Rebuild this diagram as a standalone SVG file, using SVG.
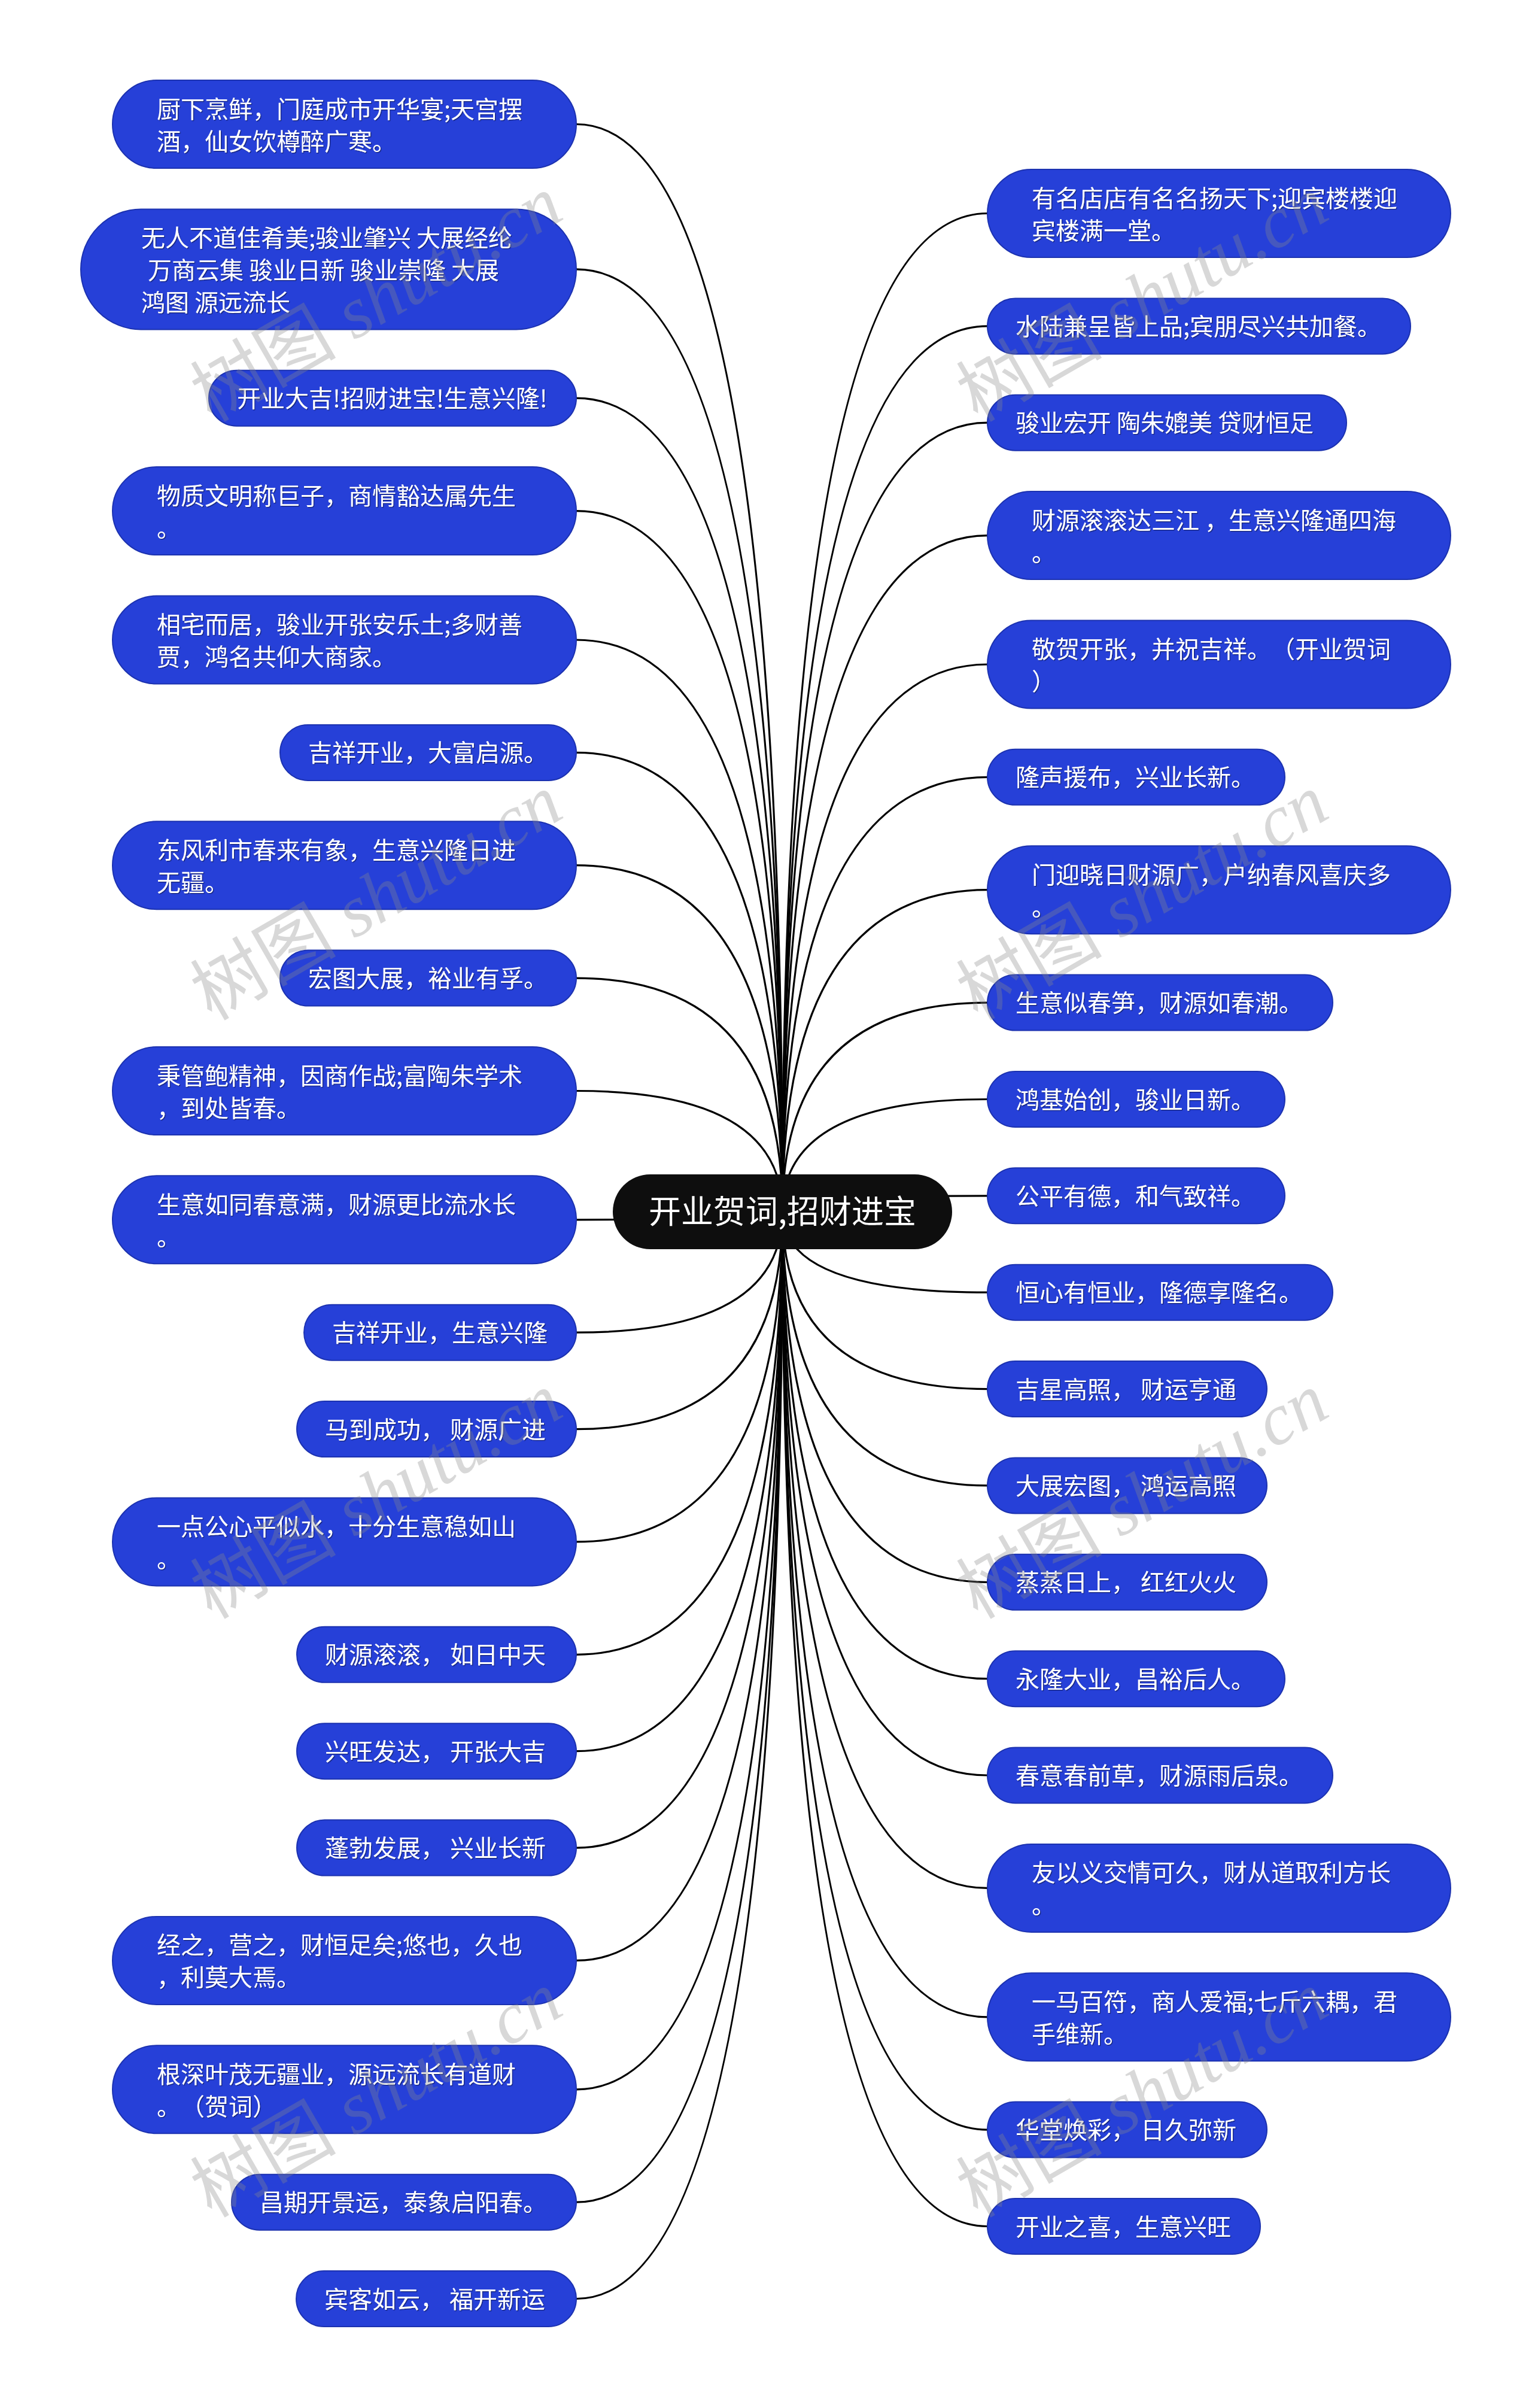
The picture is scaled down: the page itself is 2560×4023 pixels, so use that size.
<svg xmlns="http://www.w3.org/2000/svg" width="2560" height="4023" viewBox="0 0 2560 4023">
<defs>
<style>
.c path{fill:none;stroke:#000;stroke-width:3.2}
.n{fill:#2640d8;stroke:#1c32b0;stroke-width:2}
.t{font-family:"Noto Sans CJK SC","Liberation Sans",sans-serif;font-size:40px;fill:#fff;filter:url(#ts);text-spacing-trim:space-all}
.root{fill:#0e0e0e}
.rt{font-family:"Noto Sans CJK SC","Liberation Sans",sans-serif;font-size:54px;fill:#fff;text-anchor:middle}
.wm{font-family:"Liberation Serif","Noto Sans CJK SC",serif;font-size:122px;fill:#888;fill-opacity:0.33;text-anchor:middle}
</style>
<filter id="ts" x="-5%" y="-20%" width="110%" height="140%">
<feDropShadow dx="1.3" dy="1.3" stdDeviation="0.7" flood-color="#000" flood-opacity="0.45"/>
</filter>
</defs>
<rect width="2560" height="4023" fill="#fff"/>
<g id="connectors" class="c">
<path d="M1307.5,2024.5 Q1307.5,207.5 963,207.5"/>
<path d="M1307.5,2024.5 Q1307.5,449.9 963,449.9"/>
<path d="M1307.5,2024.5 Q1307.5,665.2 963,665.2"/>
<path d="M1307.5,2024.5 Q1307.5,853.6 963,853.6"/>
<path d="M1307.5,2024.5 Q1307.5,1069 963,1069"/>
<path d="M1307.5,2024.5 Q1307.5,1257.4 963,1257.4"/>
<path d="M1307.5,2024.5 Q1307.5,1445.7 963,1445.7"/>
<path d="M1307.5,2024.5 Q1307.5,1634.1 963,1634.1"/>
<path d="M1307.5,2024.5 Q1307.5,1822.5 963,1822.5"/>
<path d="M1307.5,2024.5 Q1307.5,2037.8 963,2037.8"/>
<path d="M1307.5,2024.5 Q1307.5,2226.2 963,2226.2"/>
<path d="M1307.5,2024.5 Q1307.5,2387.6 963,2387.6"/>
<path d="M1307.5,2024.5 Q1307.5,2575.9 963,2575.9"/>
<path d="M1307.5,2024.5 Q1307.5,2764.3 963,2764.3"/>
<path d="M1307.5,2024.5 Q1307.5,2925.7 963,2925.7"/>
<path d="M1307.5,2024.5 Q1307.5,3087.1 963,3087.1"/>
<path d="M1307.5,2024.5 Q1307.5,3275.4 963,3275.4"/>
<path d="M1307.5,2024.5 Q1307.5,3490.8 963,3490.8"/>
<path d="M1307.5,2024.5 Q1307.5,3679.2 963,3679.2"/>
<path d="M1307.5,2024.5 Q1307.5,3840.5 963,3840.5"/>
<path d="M1307.5,2024.5 Q1307.5,356.5 1650,356.5"/>
<path d="M1307.5,2024.5 Q1307.5,544.9 1650,544.9"/>
<path d="M1307.5,2024.5 Q1307.5,706.2 1650,706.2"/>
<path d="M1307.5,2024.5 Q1307.5,894.6 1650,894.6"/>
<path d="M1307.5,2024.5 Q1307.5,1110 1650,1110"/>
<path d="M1307.5,2024.5 Q1307.5,1298.3 1650,1298.3"/>
<path d="M1307.5,2024.5 Q1307.5,1486.7 1650,1486.7"/>
<path d="M1307.5,2024.5 Q1307.5,1675.1 1650,1675.1"/>
<path d="M1307.5,2024.5 Q1307.5,1836.5 1650,1836.5"/>
<path d="M1307.5,2024.5 Q1307.5,1997.8 1650,1997.8"/>
<path d="M1307.5,2024.5 Q1307.5,2159.2 1650,2159.2"/>
<path d="M1307.5,2024.5 Q1307.5,2320.6 1650,2320.6"/>
<path d="M1307.5,2024.5 Q1307.5,2481.9 1650,2481.9"/>
<path d="M1307.5,2024.5 Q1307.5,2643.3 1650,2643.3"/>
<path d="M1307.5,2024.5 Q1307.5,2804.7 1650,2804.7"/>
<path d="M1307.5,2024.5 Q1307.5,2966 1650,2966"/>
<path d="M1307.5,2024.5 Q1307.5,3154.4 1650,3154.4"/>
<path d="M1307.5,2024.5 Q1307.5,3369.8 1650,3369.8"/>
<path d="M1307.5,2024.5 Q1307.5,3558.1 1650,3558.1"/>
<path d="M1307.5,2024.5 Q1307.5,3719.5 1650,3719.5"/>
</g>
<g id="root"><rect class="root" x="1024" y="1962" width="567" height="125" rx="62.5"/><text class="rt" x="1307.5" y="2044">开业贺词,招财进宝</text></g>
<g id="L1"><rect class="n" x="188" y="134" width="775" height="147" rx="73.5"/><text class="t" x="262" y="196.5"><tspan>厨下烹鲜，门庭成市开华宴;天宫摆</tspan><tspan x="262" dy="54">酒，仙女饮樽醉广寒。</tspan></text></g>
<g id="L2"><rect class="n" x="135" y="349.4" width="828" height="201" rx="100.5"/><text class="t" x="236" y="411.9"><tspan>无人不道佳肴美;骏业肇兴 大展经纶</tspan><tspan x="247" dy="54">万商云集 骏业日新 骏业崇隆 大展</tspan><tspan x="236" dy="54">鸿图 源远流长</tspan></text></g>
<g id="L3"><rect class="n" x="349" y="618.7" width="614" height="93" rx="46.5"/><text class="t" x="396" y="680.2">开业大吉!招财进宝!生意兴隆!</text></g>
<g id="L4"><rect class="n" x="188" y="780.1" width="775" height="147" rx="73.5"/><text class="t" x="262" y="842.6"><tspan>物质文明称巨子，商情豁达属先生</tspan><tspan x="262" dy="54">。</tspan></text></g>
<g id="L5"><rect class="n" x="188" y="995.5" width="775" height="147" rx="73.5"/><text class="t" x="262" y="1058"><tspan>相宅而居，骏业开张安乐土;多财善</tspan><tspan x="262" dy="54">贾，鸿名共仰大商家。</tspan></text></g>
<g id="L6"><rect class="n" x="468" y="1210.9" width="495" height="93" rx="46.5"/><text class="t" x="515" y="1272.4">吉祥开业，大富启源。</text></g>
<g id="L7"><rect class="n" x="188" y="1372.2" width="775" height="147" rx="73.5"/><text class="t" x="262" y="1434.7"><tspan>东风利市春来有象，生意兴隆日进</tspan><tspan x="262" dy="54">无疆。</tspan></text></g>
<g id="L8"><rect class="n" x="468" y="1587.6" width="495" height="93" rx="46.5"/><text class="t" x="515" y="1649.1">宏图大展，裕业有孚。</text></g>
<g id="L9"><rect class="n" x="188" y="1749" width="775" height="147" rx="73.5"/><text class="t" x="262" y="1811.5"><tspan>秉管鲍精神，因商作战;富陶朱学术</tspan><tspan x="262" dy="54">，到处皆春。</tspan></text></g>
<g id="L10"><rect class="n" x="188" y="1964.3" width="775" height="147" rx="73.5"/><text class="t" x="262" y="2026.8"><tspan>生意如同春意满，财源更比流水长</tspan><tspan x="262" dy="54">。</tspan></text></g>
<g id="L11"><rect class="n" x="508" y="2179.7" width="455" height="93" rx="46.5"/><text class="t" x="555" y="2241.2">吉祥开业，生意兴隆</text></g>
<g id="L12"><rect class="n" x="496" y="2341.1" width="467" height="93" rx="46.5"/><text class="t" x="543" y="2402.6">马到成功， 财源广进</text></g>
<g id="L13"><rect class="n" x="188" y="2502.4" width="775" height="147" rx="73.5"/><text class="t" x="262" y="2564.9"><tspan>一点公心平似水，十分生意稳如山</tspan><tspan x="262" dy="54">。</tspan></text></g>
<g id="L14"><rect class="n" x="496" y="2717.8" width="467" height="93" rx="46.5"/><text class="t" x="543" y="2779.3">财源滚滚， 如日中天</text></g>
<g id="L15"><rect class="n" x="496" y="2879.2" width="467" height="93" rx="46.5"/><text class="t" x="543" y="2940.7">兴旺发达， 开张大吉</text></g>
<g id="L16"><rect class="n" x="496" y="3040.6" width="467" height="93" rx="46.5"/><text class="t" x="543" y="3102.1">蓬勃发展， 兴业长新</text></g>
<g id="L17"><rect class="n" x="188" y="3201.9" width="775" height="147" rx="73.5"/><text class="t" x="262" y="3264.4"><tspan>经之，营之，财恒足矣;悠也，久也</tspan><tspan x="262" dy="54">，利莫大焉。</tspan></text></g>
<g id="L18"><rect class="n" x="188" y="3417.3" width="775" height="147" rx="73.5"/><text class="t" x="262" y="3479.8"><tspan>根深叶茂无疆业，源远流长有道财</tspan><tspan x="262" dy="54">。（贺词）</tspan></text></g>
<g id="L19"><rect class="n" x="387" y="3632.7" width="576" height="93" rx="46.5"/><text class="t" x="434" y="3694.2">昌期开景运，泰象启阳春。</text></g>
<g id="L20"><rect class="n" x="495" y="3794" width="468" height="93" rx="46.5"/><text class="t" x="542" y="3855.5">宾客如云， 福开新运</text></g>
<g id="R1"><rect class="n" x="1650" y="283" width="774" height="147" rx="73.5"/><text class="t" x="1724" y="345.5"><tspan>有名店店有名名扬天下;迎宾楼楼迎</tspan><tspan x="1724" dy="54">宾楼满一堂。</tspan></text></g>
<g id="R2"><rect class="n" x="1650" y="498.4" width="707" height="93" rx="46.5"/><text class="t" x="1697" y="559.9">水陆兼呈皆上品;宾朋尽兴共加餐。</text></g>
<g id="R3"><rect class="n" x="1650" y="659.7" width="600" height="93" rx="46.5"/><text class="t" x="1697" y="721.2">骏业宏开 陶朱媲美 贷财恒足</text></g>
<g id="R4"><rect class="n" x="1650" y="821.1" width="774" height="147" rx="73.5"/><text class="t" x="1724" y="883.6"><tspan>财源滚滚达三江 ，生意兴隆通四海</tspan><tspan x="1724" dy="54">。</tspan></text></g>
<g id="R5"><rect class="n" x="1650" y="1036.5" width="774" height="147" rx="73.5"/><text class="t" x="1724" y="1099"><tspan>敬贺开张，并祝吉祥。（开业贺词</tspan><tspan x="1724" dy="54">）</tspan></text></g>
<g id="R6"><rect class="n" x="1650" y="1251.8" width="497" height="93" rx="46.5"/><text class="t" x="1697" y="1313.3">隆声援布，兴业长新。</text></g>
<g id="R7"><rect class="n" x="1650" y="1413.2" width="774" height="147" rx="73.5"/><text class="t" x="1724" y="1475.7"><tspan>门迎晓日财源广，户纳春风喜庆多</tspan><tspan x="1724" dy="54">。</tspan></text></g>
<g id="R8"><rect class="n" x="1650" y="1628.6" width="577" height="93" rx="46.5"/><text class="t" x="1697" y="1690.1">生意似春笋，财源如春潮。</text></g>
<g id="R9"><rect class="n" x="1650" y="1790" width="497" height="93" rx="46.5"/><text class="t" x="1697" y="1851.5">鸿基始创，骏业日新。</text></g>
<g id="R10"><rect class="n" x="1650" y="1951.3" width="497" height="93" rx="46.5"/><text class="t" x="1697" y="2012.8">公平有德，和气致祥。</text></g>
<g id="R11"><rect class="n" x="1650" y="2112.7" width="577" height="93" rx="46.5"/><text class="t" x="1697" y="2174.2">恒心有恒业，隆德享隆名。</text></g>
<g id="R12"><rect class="n" x="1650" y="2274.1" width="467" height="93" rx="46.5"/><text class="t" x="1697" y="2335.6">吉星高照， 财运亨通</text></g>
<g id="R13"><rect class="n" x="1650" y="2435.4" width="467" height="93" rx="46.5"/><text class="t" x="1697" y="2496.9">大展宏图， 鸿运高照</text></g>
<g id="R14"><rect class="n" x="1650" y="2596.8" width="467" height="93" rx="46.5"/><text class="t" x="1697" y="2658.3">蒸蒸日上， 红红火火</text></g>
<g id="R15"><rect class="n" x="1650" y="2758.2" width="497" height="93" rx="46.5"/><text class="t" x="1697" y="2819.7">永隆大业，昌裕后人。</text></g>
<g id="R16"><rect class="n" x="1650" y="2919.5" width="577" height="93" rx="46.5"/><text class="t" x="1697" y="2981">春意春前草，财源雨后泉。</text></g>
<g id="R17"><rect class="n" x="1650" y="3080.9" width="774" height="147" rx="73.5"/><text class="t" x="1724" y="3143.4"><tspan>友以义交情可久，财从道取利方长</tspan><tspan x="1724" dy="54">。</tspan></text></g>
<g id="R18"><rect class="n" x="1650" y="3296.3" width="774" height="147" rx="73.5"/><text class="t" x="1724" y="3358.8"><tspan>一马百符，商人爱福;七斤六耦，君</tspan><tspan x="1724" dy="54">手维新。</tspan></text></g>
<g id="R19"><rect class="n" x="1650" y="3511.6" width="467" height="93" rx="46.5"/><text class="t" x="1697" y="3573.1">华堂焕彩， 日久弥新</text></g>
<g id="R20"><rect class="n" x="1650" y="3673" width="456" height="93" rx="46.5"/><text class="t" x="1697" y="3734.5">开业之喜，生意兴旺</text></g>
<g id="watermarks">
<text class="wm" transform="translate(650,535) rotate(-30)">树图 <tspan font-style="italic">shutu.cn</tspan></text>
<text class="wm" transform="translate(1930,535) rotate(-30)">树图 <tspan font-style="italic">shutu.cn</tspan></text>
<text class="wm" transform="translate(650,1535) rotate(-30)">树图 <tspan font-style="italic">shutu.cn</tspan></text>
<text class="wm" transform="translate(1930,1535) rotate(-30)">树图 <tspan font-style="italic">shutu.cn</tspan></text>
<text class="wm" transform="translate(650,2535) rotate(-30)">树图 <tspan font-style="italic">shutu.cn</tspan></text>
<text class="wm" transform="translate(1930,2535) rotate(-30)">树图 <tspan font-style="italic">shutu.cn</tspan></text>
<text class="wm" transform="translate(650,3535) rotate(-30)">树图 <tspan font-style="italic">shutu.cn</tspan></text>
<text class="wm" transform="translate(1930,3535) rotate(-30)">树图 <tspan font-style="italic">shutu.cn</tspan></text>
</g>
</svg>
